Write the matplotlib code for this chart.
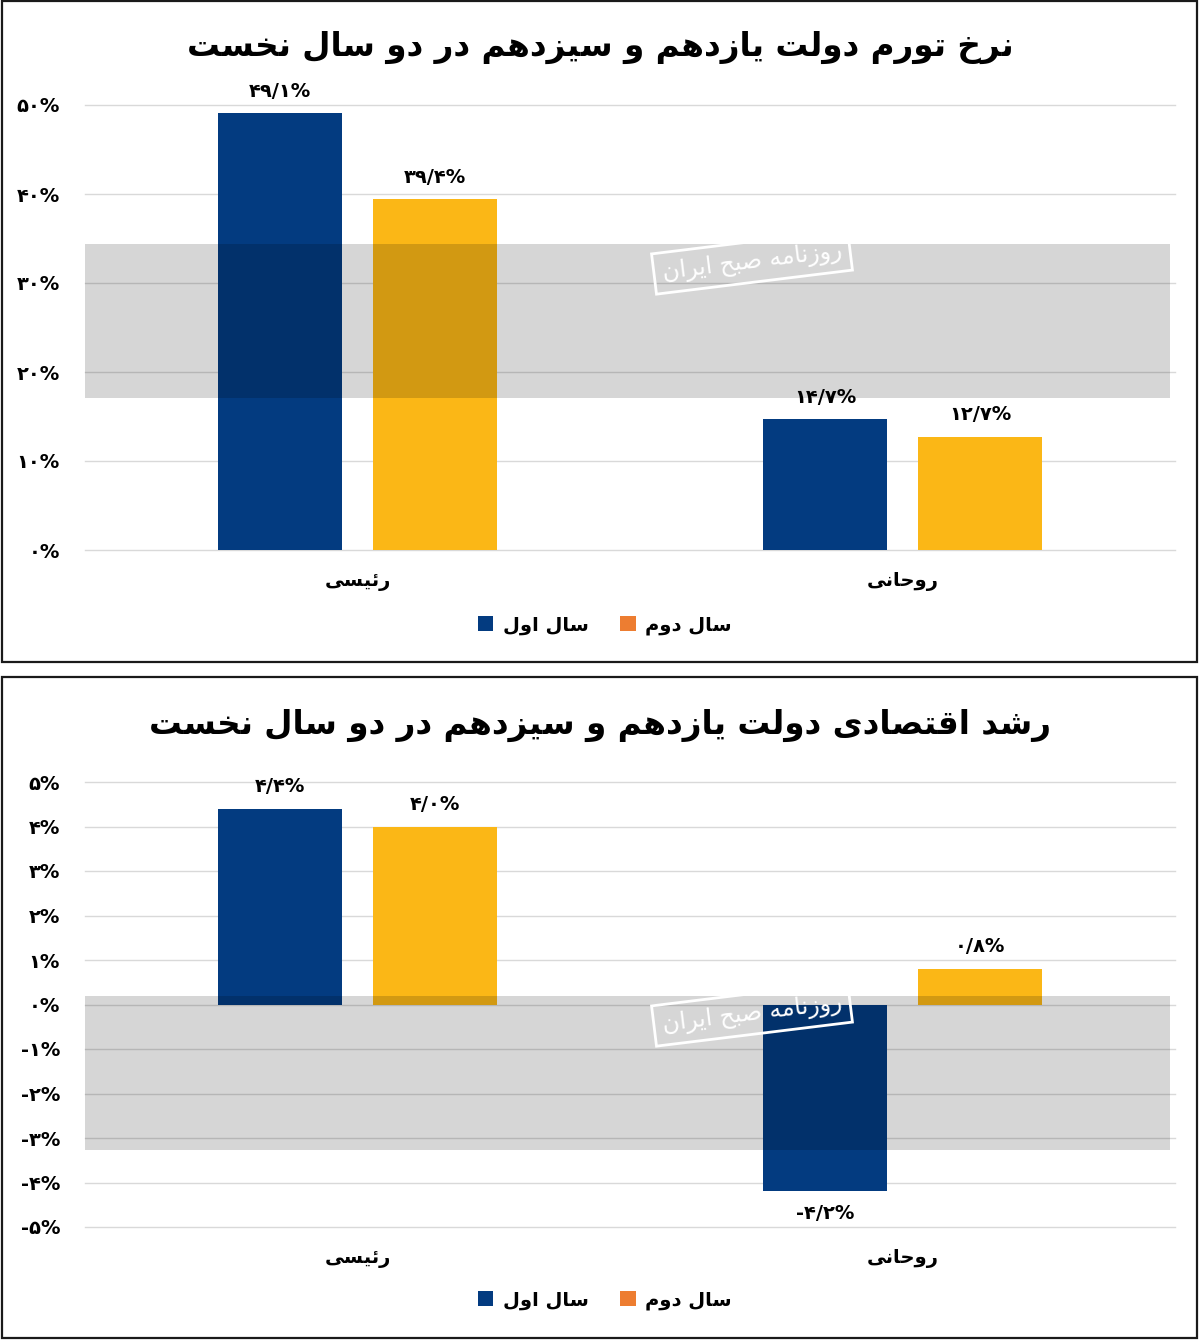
import matplotlib
matplotlib.use("Agg")
import matplotlib.pyplot as plt
from matplotlib.patches import Rectangle, Patch
import numpy as np

# ---------------- data ----------------
categories = ["رئیسی", "روحانی"]
series_names = ["سال اول", "سال دوم"]
inflation_y1 = [49.1, 14.7]
inflation_y2 = [39.4, 12.7]
growth_y1 = [4.4, -4.2]
growth_y2 = [4.0, 0.8]
title_top = "نرخ تورم دولت یازدهم و سیزدهم در دو سال نخست"
title_bottom = "رشد اقتصادی دولت یازدهم و سیزدهم در دو سال نخست"
ticks_top = [0, 10, 20, 30, 40, 50]
ticks_bottom = [-5, -4, -3, -2, -1, 0, 1, 2, 3, 4, 5]
watermark = "روزنامه صبح ایران"

BLUE = "#033B80"
YELLOW = "#FBB716"
LEG_ORANGE = "#ED7D31"

# ---------------- minimal Arabic/Persian shaping ----------------
F = {
    '\u0627': ('\uFE8D', '\uFE8E', None, None),
    '\u0622': ('\uFE81', '\uFE82', None, None),
    '\u0628': ('\uFE8F', '\uFE90', '\uFE91', '\uFE92'),
    '\u067E': ('\uFB56', '\uFB57', '\uFB58', '\uFB59'),
    '\u062A': ('\uFE95', '\uFE96', '\uFE97', '\uFE98'),
    '\u062B': ('\uFE99', '\uFE9A', '\uFE9B', '\uFE9C'),
    '\u062C': ('\uFE9D', '\uFE9E', '\uFE9F', '\uFEA0'),
    '\u0686': ('\uFB7A', '\uFB7B', '\uFB7C', '\uFB7D'),
    '\u062D': ('\uFEA1', '\uFEA2', '\uFEA3', '\uFEA4'),
    '\u062E': ('\uFEA5', '\uFEA6', '\uFEA7', '\uFEA8'),
    '\u062F': ('\uFEA9', '\uFEAA', None, None),
    '\u0630': ('\uFEAB', '\uFEAC', None, None),
    '\u0631': ('\uFEAD', '\uFEAE', None, None),
    '\u0632': ('\uFEAF', '\uFEB0', None, None),
    '\u0698': ('\uFB8A', '\uFB8B', None, None),
    '\u0633': ('\uFEB1', '\uFEB2', '\uFEB3', '\uFEB4'),
    '\u0634': ('\uFEB5', '\uFEB6', '\uFEB7', '\uFEB8'),
    '\u0635': ('\uFEB9', '\uFEBA', '\uFEBB', '\uFEBC'),
    '\u0636': ('\uFEBD', '\uFEBE', '\uFEBF', '\uFEC0'),
    '\u0637': ('\uFEC1', '\uFEC2', '\uFEC3', '\uFEC4'),
    '\u0638': ('\uFEC5', '\uFEC6', '\uFEC7', '\uFEC8'),
    '\u0639': ('\uFEC9', '\uFECA', '\uFECB', '\uFECC'),
    '\u063A': ('\uFECD', '\uFECE', '\uFECF', '\uFED0'),
    '\u0641': ('\uFED1', '\uFED2', '\uFED3', '\uFED4'),
    '\u0642': ('\uFED5', '\uFED6', '\uFED7', '\uFED8'),
    '\u06A9': ('\uFB8E', '\uFB8F', '\uFB90', '\uFB91'),
    '\u06AF': ('\uFB92', '\uFB93', '\uFB94', '\uFB95'),
    '\u0644': ('\uFEDD', '\uFEDE', '\uFEDF', '\uFEE0'),
    '\u0645': ('\uFEE1', '\uFEE2', '\uFEE3', '\uFEE4'),
    '\u0646': ('\uFEE5', '\uFEE6', '\uFEE7', '\uFEE8'),
    '\u0647': ('\uFEE9', '\uFEEA', '\uFEEB', '\uFEEC'),
    '\u0648': ('\uFEED', '\uFEEE', None, None),
    '\u06CC': ('\uFBFC', '\uFBFD', '\uFBFE', '\uFBFF'),
    '\u0626': ('\uFE89', '\uFE8A', '\uFE8B', '\uFE8C'),
}


def shape(text):
    ch = list(text)
    out = []
    for i, c in enumerate(ch):
        if c not in F:
            out.append(c)
            continue
        iso, fin, ini, med = F[c]
        prev = ch[i - 1] if i > 0 else None
        nxt = ch[i + 1] if i + 1 < len(ch) else None
        jp = prev in F and F[prev][2] is not None
        jn = nxt in F and ini is not None
        if jp and jn:
            out.append(med)
        elif jp:
            out.append(fin)
        elif jn:
            out.append(ini)
        else:
            out.append(iso)
    return ''.join(out)[::-1]


PD = str.maketrans("0123456789", "۰۱۲۳۴۵۶۷۸۹")


def pnum(v, dec=1):
    s = f"{abs(v):.{dec}f}".replace('.', '/').translate(PD) + "%"
    return ("-" + s) if v < 0 else s


plt.rcParams['font.family'] = ['DejaVu Sans']

W, H = 1200, 1340
fig = plt.figure(figsize=(W / 100, H / 100), dpi=100)
fig.patch.set_facecolor("white")


def fx(px):
    return px / W


def fy(py):
    return 1 - py / H


def make_panel(top_px, bot_px, ticks, y1, y2, ylim, title, title_y, title_size, leg_y,
               box_top, box_bot, band_top, band_bot, wm_y):
    ax = fig.add_axes([fx(85), fy(bot_px), fx(1175) - fx(85), (bot_px - top_px) / H])
    x = np.arange(len(categories))
    w = 0.2257
    off = 0.1422
    b1 = ax.bar(x - off, y1, w, color=BLUE, zorder=3)
    b2 = ax.bar(x + off, y2, w, color=YELLOW, zorder=3)
    for bars, vals in ((b1, y1), (b2, y2)):
        for r, v in zip(bars, vals):
            cx = r.get_x() + r.get_width() / 2
            if v >= 0:
                ax.annotate(pnum(v), (cx, v), xytext=(0, 9), textcoords='offset points',
                            ha='center', va='bottom', fontsize=14, fontweight='bold',
                            annotation_clip=False, zorder=5)
            else:
                ax.annotate(pnum(v), (cx, v), xytext=(0, -9), textcoords='offset points',
                            ha='center', va='top', fontsize=14, fontweight='bold',
                            annotation_clip=False, zorder=5)
    ax.set_xlim(-0.5, len(categories) - 0.5)
    ax.set_ylim(*ylim)
    for t in ticks:
        ax.axhline(t, color="#D9D9D9", lw=1, zorder=1, clip_on=False)
    ax.set_yticks(ticks)
    ax.set_yticklabels([pnum(t, 0) for t in ticks], fontsize=14, fontweight='bold')
    ax.set_xticks(x)
    ax.set_xticklabels([shape(c) for c in categories], fontsize=14, fontweight='bold')
    ax.tick_params(axis='y', length=0, pad=18)
    ax.tick_params(axis='x', length=0, pad=16)
    for s in ax.spines.values():
        s.set_visible(False)
    ax.set_facecolor("none")

    fig.text(0.5, fy(title_y), shape(title), ha='center', va='center',
             fontsize=title_size, fontweight='bold')

    handles = [Patch(facecolor=BLUE, edgecolor='none'),
               Patch(facecolor=LEG_ORANGE, edgecolor='none')]
    fig.legend(handles, [shape(s) for s in series_names], loc='center',
               bbox_to_anchor=(fx(605), fy(leg_y)), ncol=2, frameon=False,
               handlelength=0.8, handleheight=0.8, handletextpad=0.5,
               columnspacing=1.6, prop={'size': 14, 'weight': 'bold'})

    fig.add_artist(Rectangle((fx(1.5), fy(box_bot)), fx(1197) - fx(1.5),
                             (box_bot - box_top) / H, transform=fig.transFigure,
                             fill=False, edgecolor="#1a1a1a", lw=1.6, zorder=10))
    # watermark band
    fig.add_artist(Rectangle((fx(85), fy(band_bot)), fx(1170) - fx(85),
                             (band_bot - band_top) / H, transform=fig.transFigure,
                             facecolor="black", alpha=0.16, edgecolor='none', zorder=8))
    fig.text(fx(752), fy(wm_y), shape(watermark), ha='center', va='center',
             fontsize=17, color='white', rotation=7, zorder=9,
             bbox=dict(boxstyle='square,pad=0.35', facecolor='none',
                       edgecolor='white', lw=2))
    return ax


make_panel(105, 550, ticks_top, inflation_y1, inflation_y2, (0, 50), title_top, 47, 23.5, 625,
           1, 662, 244, 398, 262)
make_panel(782, 1227, ticks_bottom, growth_y1, growth_y2, (-5, 5), title_bottom, 725, 23.5, 1300,
           677, 1338, 996, 1150, 1014)

fig.savefig("out.png", dpi=100, facecolor="white")
